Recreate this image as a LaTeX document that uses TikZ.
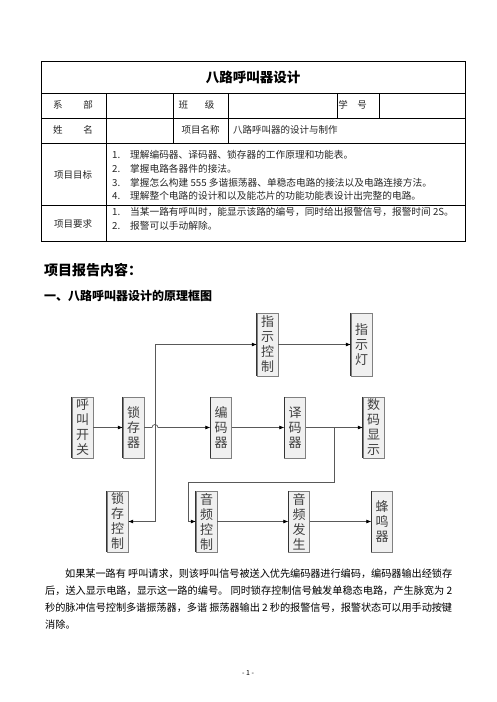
\documentclass[tikz,border=0pt]{standalone}
\usepackage{fontspec}
\setmainfont{Noto Sans CJK SC}
\XeTeXlinebreaklocale "zh"
\XeTeXlinebreakskip=0pt plus 1pt minus 0.5pt
\usetikzlibrary{arrows.meta}
\newcommand{\itemnum}[1]{\makebox[18pt][l]{#1}}
\tikzset{
  grid/.style={draw=black, line width=0.7pt},
  cell/.style={inner sep=0pt, text=black!85, font=\fontsize{9.5}{11}\selectfont},
  item/.style={cell, anchor=west, font=\fontsize{9.7}{11}\selectfont},
  blk/.style={draw=black!50, fill=black!6, minimum width=21pt, minimum height=61pt,
    inner sep=0pt, align=center, text=black!75, font=\fontsize{13}{15}\selectfont},
  tallblk/.style={blk, minimum height=63pt},
  conn/.style={draw=black!65, line width=0.7pt},
  arr/.style={conn, -{Latex[length=5pt,width=4pt,color=black]}},
  darr/.style={conn, {Latex[length=5pt,width=4pt,color=black]}-{Latex[length=5pt,width=4pt,color=black]}}
}
\begin{document}
\begin{tikzpicture}[x=1pt,y=-1pt]
\useasboundingbox (0,0) rectangle (496,702);
\fill[white] (0,0) rectangle (496,702);

% ---- table ----
\draw[grid, line width=0.9pt] (41,61) rectangle (465,241);
\draw[grid] (41,93) -- (465,93);
\draw[grid] (41,118) -- (465,118);
\draw[grid] (41,143) -- (465,143);
\draw[grid] (41,205) -- (465,205);
\draw[grid] (106,93) -- (106,241);
\draw[grid] (173,93) -- (173,143);
\draw[grid] (228,93) -- (228,143);
\draw[grid] (337,93) -- (337,118);
\draw[grid] (379,93) -- (379,118);

\node[font=\bfseries\fontsize{13.5}{15}\selectfont] (title) at (253,77) {八路呼叫器设计};

\node[cell] (xibu) at (73,105) {系\hspace{21pt}部};
\node[cell] (banji) at (196.5,105) {班\hspace{17pt}级};
\node[cell] (xuehao) at (352.5,105) {学\hspace{9.5pt}号};
\node[cell] (xingming) at (73,130) {姓\hspace{21pt}名};
\node[cell] (xmmc) at (200.5,130) {项目名称};
\node[item, font=\fontsize{9.5}{11}\selectfont] (xmmcv) at (233,130) {八路呼叫器的设计与制作};

\node[cell] (mubiao) at (73,175) {项目目标};
\node[item] (m1) at (112,155) {\itemnum{1.}理解编码器、译码器、锁存器的工作原理和功能表。};
\node[item] (m2) at (112,169) {\itemnum{2.}掌握电路各器件的接法。};
\node[item] (m3) at (112,182.5) {\itemnum{3.}掌握怎么构建 555 多谐振荡器、单稳态电路的接法以及电路连接方法。};
\node[item] (m4) at (112,196) {\itemnum{4.}理解整个电路的设计和以及能芯片的功能功能表设计出完整的电路。};

\node[cell] (yaoqiu) at (73,224) {项目要求};
\node[item] (y1) at (112,212) {\itemnum{1.}当某一路有呼叫时，能显示该路的编号，同时给出报警信号，报警时间 2S。};
\node[item] (y2) at (112,225.5) {\itemnum{2.}报警可以手动解除。};

% ---- headings ----
\node[anchor=west, inner sep=0pt, font=\bfseries\fontsize{14}{16}\selectfont] (h1) at (44,270) {项目报告内容：};
\node[anchor=west, inner sep=0pt, font=\bfseries\fontsize{12}{14}\selectfont] (h2) at (44,296) {一、八路呼叫器设计的原理框图};

% ---- block diagram ----
\node[tallblk] (zskz) at (267.5,344.5) {指\\示\\控\\制};
\node[tallblk] (zsd) at (361.5,344.5) {指\\示\\灯};
\node[blk] (hjkg) at (82.5,427.5) {呼\\叫\\开\\关};
\node[blk] (scq) at (133.5,427.5) {锁\\存\\器};
\node[blk] (bmq) at (221,427.5) {编\\码\\器};
\node[blk] (ymq) at (295,427.5) {译\\码\\器};
\node[blk] (smxs) at (373.5,427.5) {数\\码\\显\\示};
\node[blk] (sckz) at (117.5,521.5) {锁\\存\\控\\制};
\node[blk] (ypkz) at (206.5,521.5) {音\\频\\控\\制};
\node[blk] (ypfs) at (299,521.5) {音\\频\\发\\生};
\node[blk] (fmq) at (382,521.5) {蜂\\鸣\\器};
\foreach \n in {zskz,zsd,hjkg,scq,bmq,ymq,smxs,sckz,ypkz,ypfs,fmq}
  \draw[black!80, line width=0.9pt] (\n.north west) -- (\n.south west);

\coordinate (hopL) at (152,427.5);
\coordinate (v1) at (155,344.5);
\coordinate (v2) at (155,521.5);
\coordinate (b0) at (334,427.5);
\coordinate (b1) at (334,482);
\coordinate (b2) at (188,482);
\coordinate (b3) at (188,521.5);

\draw[arr] (hjkg) -- (scq);
\draw[arr] (scq.east) -- (hopL) arc[start angle=180, end angle=0, radius=3pt] -- (bmq.west);
\draw[arr] (bmq) -- (ymq);
\draw[arr] (ymq) -- (smxs);
\draw[darr] (zskz.west) -- (v1) -- (v2) -- (sckz.east);
\draw[arr] (zskz) -- (zsd);
\draw[arr] (b0) -- (b1) -- (b2) -- (b3) -- (ypkz.west);
\draw[arr] (ypkz) -- (ypfs);
\draw[arr] (ypfs) -- (fmq);

% ---- paragraph ----
\node[anchor=north west, inner sep=0pt, text width=407pt, align=justify,
  font=\fontsize{10.2}{17}\selectfont] (para) at (45,569)
  {\hspace*{20pt}如果某一路有 呼叫请求，则该呼叫信号被送入优先编码器进行编码，编码器输出经锁存\linebreak
   后，送入显示电路，显示这一路的编号。 同时锁存控制信号触发单稳态电路，产生脉宽为 2\linebreak
   秒的脉冲信号控制多谐振荡器，多谐 振荡器输出 2 秒的报警信号，报警状态可以用手动按键\linebreak
   消除。};

\node[inner sep=0pt, font=\fontsize{7}{8}\selectfont] (pg) at (248,673) {- 1 -};
\end{tikzpicture}
\end{document}
